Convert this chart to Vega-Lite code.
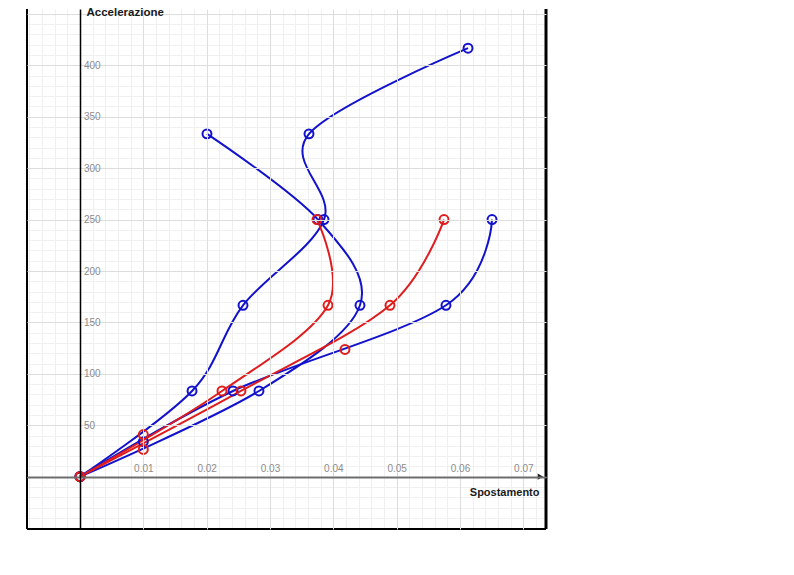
{
  "$schema": "https://vega.github.io/schema/vega-lite/v6.json",
  "width": 519,
  "height": 520,
  "autosize": {"type": "none"},
  "padding": {"left": 27, "top": 9, "right": 248, "bottom": 46},
  "background": "white",
  "config": {
    "view": {"stroke": null},
    "font": "Liberation Sans",
    "axis": {"labelFont": "Liberation Sans", "titleFont": "Liberation Sans"}
  },
  "datasets": {
    "curves": [
      {"curve": "A", "kind": "blue", "step": 0, "spost": 0, "acc": 0},
      {"curve": "A", "kind": "blue", "step": 1, "spost": 0.01769, "acc": 83.333},
      {"curve": "A", "kind": "blue", "step": 2, "spost": 0.02574, "acc": 166.667},
      {"curve": "A", "kind": "blue", "step": 3, "spost": 0.03853, "acc": 250},
      {"curve": "A", "kind": "blue", "step": 4, "spost": 0.03616, "acc": 333.333},
      {"curve": "A", "kind": "blue", "step": 5, "spost": 0.06127, "acc": 416.667},
      {"curve": "B", "kind": "blue", "step": 0, "spost": 0, "acc": 0},
      {"curve": "B", "kind": "blue", "step": 1, "spost": 0.02826, "acc": 83.333},
      {"curve": "B", "kind": "blue", "step": 2, "spost": 0.04421, "acc": 166.667},
      {"curve": "B", "kind": "blue", "step": 3, "spost": 0.03758, "acc": 250},
      {"curve": "B", "kind": "blue", "step": 4, "spost": 0.02005, "acc": 333.333},
      {"curve": "C", "kind": "blue", "step": 0, "spost": 0, "acc": 0},
      {"curve": "C", "kind": "blue", "step": 1, "spost": 0.02416, "acc": 83.333},
      {"curve": "C", "kind": "blue", "step": 2, "spost": 0.05779, "acc": 166.667},
      {"curve": "C", "kind": "blue", "step": 3, "spost": 0.06506, "acc": 250},
      {"curve": "D", "kind": "red", "step": 0, "spost": 0, "acc": 0},
      {"curve": "D", "kind": "red", "step": 1, "spost": 0.02242, "acc": 83.333},
      {"curve": "D", "kind": "red", "step": 2, "spost": 0.03916, "acc": 166.667},
      {"curve": "D", "kind": "red", "step": 3, "spost": 0.03742, "acc": 250},
      {"curve": "E", "kind": "red", "step": 0, "spost": 0, "acc": 0},
      {"curve": "E", "kind": "red", "step": 1, "spost": 0.02542, "acc": 83.333},
      {"curve": "E", "kind": "red", "step": 2, "spost": 0.04895, "acc": 166.667},
      {"curve": "E", "kind": "red", "step": 3, "spost": 0.05748, "acc": 250}
    ],
    "limits": [
      {"kind": "blue", "spost": 0.01, "acc": 34},
      {"kind": "red", "spost": 0.01, "acc": 41},
      {"kind": "red", "spost": 0.01, "acc": 26.5},
      {"kind": "red", "spost": 0.04184, "acc": 123.75}
    ]
  },
  "resolve": {"axis": {"x": "independent", "y": "independent"}},
  "layer": [
    {
      "data": {"name": "curves"},
      "mark": {"type": "point", "opacity": 0},
      "encoding": {
        "x": {
          "field": "spost", "type": "quantitative",
          "scale": {"domain": [-0.008369, 0.073583], "nice": false, "zero": false},
          "axis": {
            "orient": "bottom", "offset": -52, "title": null,
            "values": [-0.008, -0.006, -0.004, -0.002, 0, 0.002, 0.004, 0.006, 0.008, 0.012, 0.014, 0.016, 0.018, 0.022, 0.024, 0.026, 0.028, 0.032, 0.034, 0.036, 0.038, 0.042, 0.044, 0.046, 0.048, 0.052, 0.054, 0.056, 0.058, 0.062, 0.064, 0.066, 0.068, 0.072],
            "grid": true, "gridColor": "#f0f0f0", "gridWidth": 1,
            "domain": false, "ticks": false, "labels": false, "zindex": 0
          }
        },
        "y": {
          "field": "acc", "type": "quantitative",
          "scale": {"domain": [-50.85, 454.74], "nice": false, "zero": false},
          "axis": {
            "orient": "left", "offset": -53, "title": null,
            "values": [-40, -30, -20, -10, 10, 20, 30, 40, 60, 70, 80, 90, 110, 120, 130, 140, 160, 170, 180, 190, 210, 220, 230, 240, 260, 270, 280, 290, 310, 320, 330, 340, 360, 370, 380, 390, 410, 420, 430, 440],
            "grid": true, "gridColor": "#f0f0f0", "gridWidth": 1,
            "domain": false, "ticks": false, "labels": false, "zindex": 0
          }
        }
      }
    },
    {
      "data": {"name": "curves"},
      "mark": {"type": "line", "interpolate": "cardinal", "tension": 0, "strokeWidth": 2},
      "encoding": {
        "x": {
          "field": "spost", "type": "quantitative",
          "axis": {
            "orient": "bottom", "offset": -52,
            "values": [0.01, 0.02, 0.03, 0.04, 0.05, 0.06, 0.07],
            "format": ".2f",
            "grid": true, "gridColor": "#dddddd", "gridWidth": 1,
            "domain": true, "domainColor": "#6e6e6e", "domainWidth": 2,
            "ticks": false,
            "labels": true, "labelColor": "#8c8c8c", "labelFontSize": 10,
            "labelPadding": -9, "labelBaseline": "middle", "labelAlign": "center",
            "title": "Spostamento", "titleFontSize": 11, "titleFontWeight": "bold", "titleColor": "#1a1a1a",
            "titleX": 512, "titleY": 18, "titleAlign": "right", "titleBaseline": "alphabetic", "titleAnchor": null,
            "zindex": 1
          }
        },
        "y": {
          "field": "acc", "type": "quantitative",
          "axis": {
            "orient": "left", "offset": -53,
            "values": [0, 50, 100, 150, 200, 250, 300, 350, 400, 450],
            "labelExpr": "datum.value == 0 || datum.value >= 450 ? '' : datum.label",
            "grid": true, "gridColor": "#dddddd", "gridWidth": 1,
            "domain": true, "domainColor": "#000000", "domainWidth": 1.5,
            "ticks": false,
            "labels": true, "labelColor": "#8c8c8c", "labelFontSize": 10,
            "labelPadding": -3.5, "labelBaseline": "middle", "labelAlign": "left",
            "title": "Accelerazione", "titleFontSize": 11.5, "titleFontWeight": "bold", "titleColor": "#1a1a1a",
            "titleAngle": 0, "titleX": 6, "titleY": 6, "titleAlign": "left", "titleBaseline": "alphabetic", "titleAnchor": null,
            "zindex": 1
          }
        },
        "color": {
          "field": "kind", "type": "nominal",
          "scale": {"domain": ["blue", "red"], "range": ["#1212cc", "#e01c1c"]},
          "legend": null
        },
        "detail": {"field": "curve"},
        "order": {"field": "step", "type": "quantitative"}
      }
    },
    {
      "data": {"name": "curves"},
      "mark": {"type": "point", "filled": false, "size": 80, "strokeWidth": 2, "opacity": 1},
      "encoding": {
        "x": {"field": "spost", "type": "quantitative", "axis": null},
        "y": {"field": "acc", "type": "quantitative", "axis": null},
        "color": {"field": "kind", "type": "nominal", "legend": null}
      }
    },
    {
      "data": {"name": "limits"},
      "mark": {"type": "point", "filled": false, "size": 80, "strokeWidth": 2, "opacity": 1},
      "encoding": {
        "x": {"field": "spost", "type": "quantitative", "axis": null},
        "y": {"field": "acc", "type": "quantitative", "axis": null},
        "color": {"field": "kind", "type": "nominal", "legend": null}
      }
    },
    {
      "data": {"values": [{}]},
      "mark": {"type": "point", "shape": "triangle-right", "filled": true, "size": 40, "color": "#1a1a1a", "opacity": 1},
      "encoding": {
        "x": {"datum": 0.0727, "type": "quantitative", "axis": null},
        "y": {"datum": 0, "type": "quantitative", "axis": null}
      }
    },
    {
      "data": {"values": [{}]},
      "mark": {"type": "rule", "color": "#000000", "strokeWidth": 2},
      "encoding": {"x": {"datum": -0.008369, "type": "quantitative", "axis": null}}
    },
    {
      "data": {"values": [{}]},
      "mark": {"type": "rule", "color": "#000000", "strokeWidth": 3},
      "encoding": {"x": {"datum": 0.073583, "type": "quantitative", "axis": null}}
    },
    {
      "data": {"values": [{}]},
      "mark": {"type": "rule", "color": "#000000", "strokeWidth": 2},
      "encoding": {"y": {"datum": -50.85, "type": "quantitative", "axis": null}}
    }
  ]
}
